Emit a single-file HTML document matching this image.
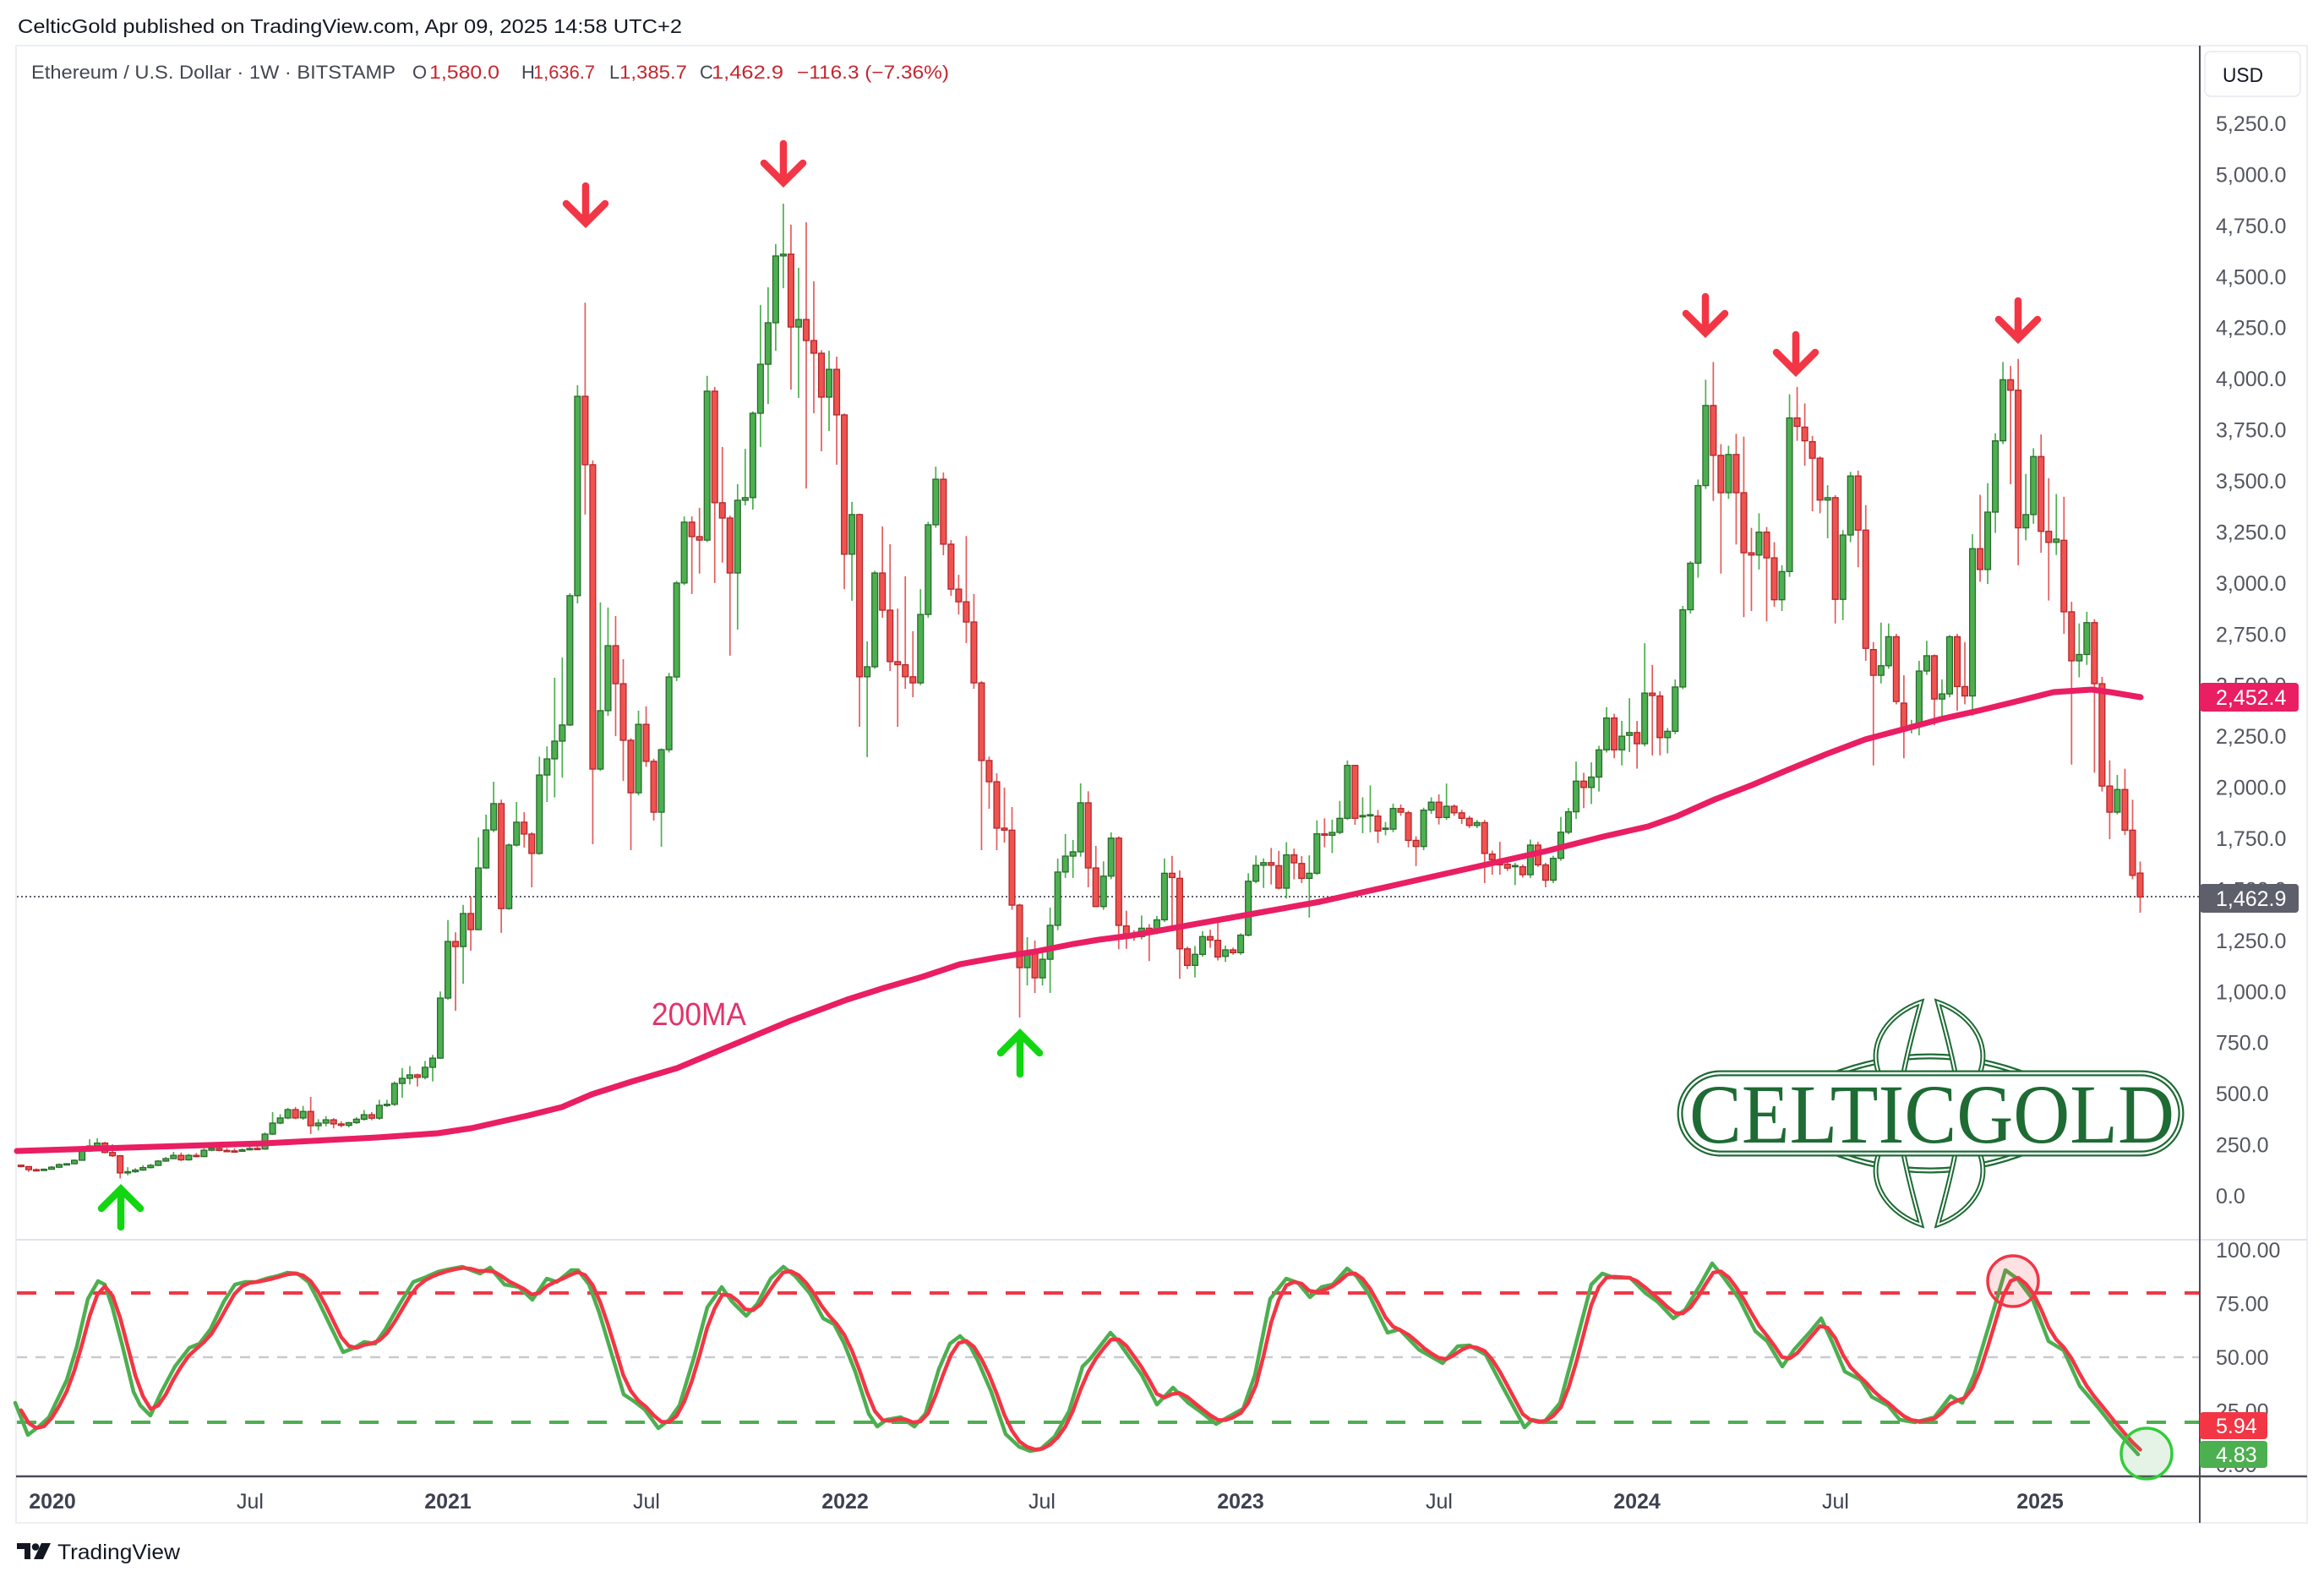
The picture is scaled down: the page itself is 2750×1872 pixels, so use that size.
<!DOCTYPE html>
<html><head><meta charset="utf-8">
<style>
html,body{margin:0;padding:0;background:#fff;}
svg{display:block;}
text{font-family:"Liberation Sans",Arial,sans-serif;}
</style></head><body>
<svg id="c" width="2750" height="1872" viewBox="0 0 2750 1872" xmlns="http://www.w3.org/2000/svg">
<rect width="2750" height="1872" fill="#fff"/>
<!-- header -->
<text x="21" y="39" font-size="23" fill="#131722" textLength="786" lengthAdjust="spacingAndGlyphs">CelticGold published on TradingView.com, Apr 09, 2025 14:58 UTC+2</text>
<!-- panel frame -->
<rect x="19" y="54" width="2711" height="1748" fill="none" stroke="#eceef2" stroke-width="2"/>
<line x1="19" y1="1467" x2="2730" y2="1467" stroke="#e0e3eb" stroke-width="2"/>
<!-- legend -->
<text x="37" y="93" font-size="22" fill="#434651" textLength="431" lengthAdjust="spacingAndGlyphs">Ethereum / U.S. Dollar · 1W · BITSTAMP</text>
<text x="488" y="93" font-size="22" fill="#434651">O</text>
<text x="508" y="93" font-size="22" fill="#c4262e" textLength="83" lengthAdjust="spacingAndGlyphs">1,580.0</text>
<text x="617" y="93" font-size="22" fill="#434651">H</text>
<text x="631" y="93" font-size="22" fill="#c4262e" textLength="73" lengthAdjust="spacingAndGlyphs">1,636.7</text>
<text x="721" y="93" font-size="22" fill="#434651">L</text>
<text x="733" y="93" font-size="22" fill="#c4262e" textLength="80" lengthAdjust="spacingAndGlyphs">1,385.7</text>
<text x="828" y="93" font-size="22" fill="#434651">C</text>
<text x="842" y="93" font-size="22" fill="#c4262e" textLength="85" lengthAdjust="spacingAndGlyphs">1,462.9</text>
<text x="943" y="93" font-size="22" fill="#c4262e" textLength="180" lengthAdjust="spacingAndGlyphs">−116.3 (−7.36%)</text>

<!-- current price dotted line -->
<line x1="20" y1="1061" x2="2603" y2="1061" stroke="#5d606b" stroke-width="2" stroke-dasharray="2 3"/>

<g id="candles"></g>

<!-- 200MA -->
<polyline fill="none" stroke="#e91e63" stroke-width="7" stroke-linejoin="round" stroke-linecap="round"
points="20,1362 134,1358.5 312,1353 446,1346 518,1341 558,1335 589,1328 625,1320 665,1310 700,1295 747,1280 801,1264 868,1236 935,1208 1002,1183 1046,1169 1091,1156 1136,1141 1180,1133 1225,1126 1270,1117 1300,1112 1339,1107 1473,1083 1562,1067 1652,1047 1741,1027 1830,1007 1897,990 1950,978 1984,966 2029,946 2073,929 2118,910 2162,892 2207,875 2252,863 2296,851 2341,841 2386,830 2430,819 2475,816 2497,819 2533,825"/>
<text x="771" y="1213" font-size="38" fill="#e2336b" textLength="112" lengthAdjust="spacingAndGlyphs">200MA</text>

<!-- red arrows -->
<g stroke="#f23645" stroke-width="8.5" fill="none" stroke-linecap="round" stroke-linejoin="miter">
<path d="M693 220 V264 M670 241 L693 264 L716 241"/>
<path d="M927 170 V216 M904 193 L927 216 L950 193"/>
<path d="M2018 351 V394 M1995 371 L2018 394 L2041 371"/>
<path d="M2125 396 V440 M2102 417 L2125 440 L2148 417"/>
<path d="M2388 356 V401 M2365 378 L2388 401 L2411 378"/>
</g>
<!-- green arrows -->
<g stroke="#12d612" stroke-width="8.5" fill="none" stroke-linecap="round" stroke-linejoin="miter">
<path d="M143 1452 V1407 M120 1430 L143 1407 L166 1430"/>
<path d="M1207 1271 V1223 M1184 1246 L1207 1223 L1230 1246"/>
</g>

<!-- CelticGold logo -->
<g>
<g fill="none" stroke="#1e6b34" stroke-width="7">
<path d="M2163 1274 Q2283 1226 2403 1274"/>
<path d="M2163 1361 Q2283 1409 2403 1361"/>
</g>
<g fill="none" stroke="#fff" stroke-width="2.5">
<path d="M2163 1274 Q2283 1226 2403 1274"/>
<path d="M2163 1361 Q2283 1409 2403 1361"/>
</g>
<g fill="#fff" stroke="#1e6b34" stroke-width="6">
<path d="M2273 1186 C2238 1198 2208 1232 2224 1272 L2252 1272 C2258 1240 2266 1212 2273 1186 Z"/>
<path d="M2293 1186 C2328 1198 2358 1232 2342 1272 L2314 1272 C2308 1240 2300 1212 2293 1186 Z"/>
<path d="M2273 1449 C2238 1437 2208 1403 2224 1363 L2252 1363 C2258 1395 2266 1423 2273 1449 Z"/>
<path d="M2293 1449 C2328 1437 2358 1403 2342 1363 L2314 1363 C2308 1395 2300 1423 2293 1449 Z"/>
</g>
<g fill="none" stroke="#fff" stroke-width="2">
<path d="M2273 1186 C2238 1198 2208 1232 2224 1272 L2252 1272 C2258 1240 2266 1212 2273 1186 Z"/>
<path d="M2293 1186 C2328 1198 2358 1232 2342 1272 L2314 1272 C2308 1240 2300 1212 2293 1186 Z"/>
<path d="M2273 1449 C2238 1437 2208 1403 2224 1363 L2252 1363 C2258 1395 2266 1423 2273 1449 Z"/>
<path d="M2293 1449 C2328 1437 2358 1403 2342 1363 L2314 1363 C2308 1395 2300 1423 2293 1449 Z"/>
</g>
<rect x="1988" y="1270" width="593" height="95" rx="47.5" fill="#fff" stroke="#1e6b34" stroke-width="7"/>
<rect x="1988" y="1270" width="593" height="95" rx="47.5" fill="none" stroke="#fff" stroke-width="2.5"/>
<text x="1999" y="1352" font-family="'Liberation Serif',serif" font-size="100" fill="#1e6b34" textLength="574" lengthAdjust="spacingAndGlyphs" style="font-family:'Liberation Serif',serif">CELTICGOLD</text>
</g>

<!-- oscillator reference lines -->
<line x1="20" y1="1530" x2="2603" y2="1530" stroke="#f23645" stroke-width="4" stroke-dasharray="23 22"/>
<line x1="20" y1="1606" x2="2603" y2="1606" stroke="#c8cad0" stroke-width="2.5" stroke-dasharray="12 10"/>
<line x1="20" y1="1683" x2="2603" y2="1683" stroke="#4caf50" stroke-width="4" stroke-dasharray="23 22"/>
<g id="osc"></g>

<!-- axes -->
<line x1="19" y1="1747" x2="2730" y2="1747" stroke="#4a4d57" stroke-width="2.5"/>
<line x1="2603" y1="54" x2="2603" y2="1802" stroke="#4a4d57" stroke-width="2"/>

<!-- circles -->
<circle cx="2382" cy="1516" r="30" fill="rgba(242,54,69,0.15)" stroke="#f23645" stroke-width="3.5"/>
<circle cx="2540" cy="1720" r="30" fill="rgba(76,175,80,0.15)" stroke="#33cc3a" stroke-width="3.5"/>

<!-- USD box -->
<rect x="2609" y="61" width="113" height="53" rx="7" fill="#fff" stroke="#e6e8ee" stroke-width="1.5"/>
<text x="2630" y="97" font-size="24" fill="#131722" textLength="48" lengthAdjust="spacingAndGlyphs">USD</text>

<g id="plabels" font-size="25" fill="#535660"></g>

<!-- price label boxes -->
<rect x="2603" y="808" width="117" height="34" rx="4" fill="#e91e63"/>
<text x="2622" y="834" font-size="25" fill="#fff">2,452.4</text>
<rect x="2603" y="1046" width="117" height="34" rx="4" fill="#5d606b"/>
<text x="2622" y="1072" font-size="25" fill="#fff">1,462.9</text>
<rect x="2603" y="1671" width="80" height="32" rx="4" fill="#f23645"/>
<text x="2622" y="1696" font-size="25" fill="#fff">5.94</text>
<rect x="2603" y="1705" width="80" height="32" rx="4" fill="#4caf50"/>
<text x="2622" y="1730" font-size="25" fill="#fff">4.83</text>

<!-- time axis labels -->
<g font-size="25" fill="#3d4150" text-anchor="middle">
<text x="62" y="1785" font-weight="bold">2020</text>
<text x="296" y="1785">Jul</text>
<text x="530" y="1785" font-weight="bold">2021</text>
<text x="765" y="1785">Jul</text>
<text x="1000" y="1785" font-weight="bold">2022</text>
<text x="1233" y="1785">Jul</text>
<text x="1468" y="1785" font-weight="bold">2023</text>
<text x="1703" y="1785">Jul</text>
<text x="1937" y="1785" font-weight="bold">2024</text>
<text x="2172" y="1785">Jul</text>
<text x="2414" y="1785" font-weight="bold">2025</text>
</g>

<!-- TradingView footer -->
<g fill="#131722">
<path d="M20 1826 H36 V1845 H29 V1833 H20 Z"/>
<circle cx="42" cy="1830.5" r="4.3"/>
<path d="M49 1826 H60 L51 1845 H40 Z"/>
</g>
<text x="68" y="1845" font-size="25" fill="#131722" textLength="145" lengthAdjust="spacingAndGlyphs">TradingView</text>
</svg>

<script>
(function(){
var NS="http://www.w3.org/2000/svg";
function el(tag,attrs,parent){var e=document.createElementNS(NS,tag);for(var k in attrs)e.setAttribute(k,attrs[k]);parent.appendChild(e);return e;}
var D=[[150,153,139,143],[143,146,117,128],[128,134,122,126],[126,134,124,130],
[130,146,128,140],[140,158,135,153],[153,160,148,157],[157,178,154,174],[174,224,172,219],[219,277,215,244],[244,282,238,258],[258,264,208,212],[212,252,190,196],[196,200,85,112],
[112,140,100,118],[118,135,112,126],[126,150,122,138],[138,156,134,149],[149,175,145,170],[170,190,166,182],[182,215,180,198],[198,212,170,176],[176,205,172,198],[198,210,188,192],
[192,232,190,223],[223,252,218,232],[232,238,218,222],[222,234,216,220],[220,232,214,218],[218,232,216,225],[225,245,222,232],[232,242,226,229],[229,310,226,302],[302,410,298,356],
[356,400,350,381],[381,430,375,422],[422,435,375,381],[381,440,372,413],[413,484,302,343],[343,375,320,356],[356,390,340,372],[372,380,330,352],[352,365,335,345],[345,362,335,358],
[358,385,352,375],[375,420,368,397],[397,410,370,380],[380,470,372,443],[443,470,435,448],[448,560,440,550],[550,625,480,575],[575,635,545,592],[592,598,535,580],[580,660,570,629],
[629,690,560,674],[674,1000,670,968],[968,1350,960,1245],[1245,1290,906,1220],[1220,1424,1038,1382],[1382,1464,1200,1303],[1303,1754,1300,1605],[1605,1866,1600,1791],[1791,2027,1780,1920],[1920,1940,1287,1406],
[1406,1725,1400,1717],[1717,1928,1710,1829],[1829,1878,1705,1771],[1771,1780,1510,1676],[1676,2150,1670,2060],[2060,2200,1928,2139],[2139,2536,1950,2226],[2226,2635,2047,2305],[2305,2950,2300,2938],[2938,3968,2900,3914],
[3914,4372,3335,3579],[3579,3600,1721,2089],[2089,2905,2080,2375],[2375,2880,2350,2693],[2693,2838,2250,2507],[2507,2627,2031,2230],[2230,2240,1692,1973],[1973,2375,1960,2308],[2308,2396,2100,2127],[2127,2140,1837,1878],
[1878,2190,1709,2184],[2184,2560,2170,2540],[2540,3010,2520,3000],[3000,3326,2990,3298],[3298,3326,2946,3227],[3227,3368,3046,3210],[3210,4014,3200,3939],[3939,3960,3000,3393],[3393,3666,3100,3318],[3318,3330,2644,3049],
[3049,3484,2772,3405],[3405,3657,3380,3418],[3418,3840,3359,3831],[3831,4361,3666,4071],[4071,4448,3876,4274],[4274,4659,4137,4601],[4601,4857,4443,4610],[4610,4754,3947,4253],[4253,4543,3906,4290],[4290,4766,3463,4187],
[4187,4477,3831,4125],[4125,4140,3645,3910],[3910,4137,3744,4046],[4046,4108,3579,3823],[3823,3830,2970,3141],[3141,3397,2913,3335],[3335,3340,2296,2541],[2541,2714,2147,2590],[2590,3060,2580,3049],[3049,3277,2830,2867],
[2867,3190,2569,2615],[2615,2875,2296,2600],[2600,3033,2482,2541],[2541,2764,2441,2511],[2511,2970,2500,2846],[2846,3300,2830,3285],[3285,3570,3270,3508],[3508,3541,3136,3190],[3190,3210,2937,2970],[2970,3040,2846,2908],
[2908,3230,2706,2809],[2809,2946,2482,2511],[2511,2520,1692,2131],[2131,2150,1895,2027],[2027,2069,1692,1800],[1800,1998,1729,1790],[1790,1903,1400,1423],[1423,1430,873,1117],[1117,1266,1030,1187],[1187,1250,993,1067],
[1067,1200,1030,1158],[1158,1411,993,1324],[1324,1651,1300,1585],[1585,1771,1556,1663],[1663,1742,1556,1684],[1684,2019,1660,1924],[1924,1980,1510,1605],[1605,1713,1415,1416],[1416,1637,1400,1565],[1565,1779,1550,1751],
[1751,1760,1207,1324],[1321,1396,1209,1283],[1283,1300,1248,1269],[1269,1372,1255,1310],[1310,1330,1149,1296],[1296,1370,1280,1351],[1351,1651,1340,1579],[1579,1664,1317,1558],[1554,1593,1062,1209],[1209,1220,1110,1128],
[1128,1223,1069,1182],[1182,1296,1170,1269],[1269,1303,1214,1252],[1251,1342,1152,1169],[1172,1225,1145,1204],[1204,1215,1180,1190],[1190,1285,1180,1276],[1276,1579,1270,1540],[1540,1666,1530,1618],[1618,1652,1507,1631],
[1631,1703,1524,1618],[1616,1689,1500,1506],[1506,1731,1455,1669],[1669,1700,1549,1630],[1627,1663,1531,1554],[1554,1667,1362,1579],[1579,1838,1570,1772],[1772,1848,1706,1765],[1765,1841,1678,1779],[1779,1933,1770,1848],
[1848,2131,1840,2107],[2107,2110,1816,1848],[1855,1951,1775,1862],[1862,2009,1779,1866],[1859,1889,1727,1786],[1795,1830,1765,1800],[1795,1920,1780,1896],[1896,1916,1860,1878],[1875,1885,1706,1740],[1740,1760,1614,1710],
[1710,1900,1692,1888],[1888,1951,1870,1927],[1927,1965,1818,1852],[1852,2018,1840,1907],[1907,1916,1860,1875],[1875,1890,1820,1848],[1848,1860,1800,1813],[1813,1840,1800,1827],[1827,1840,1531,1676],[1673,1690,1572,1645],
[1642,1733,1572,1620],[1623,1640,1590,1604],[1612,1630,1521,1617],[1611,1622,1558,1572],[1572,1744,1556,1717],[1717,1733,1610,1620],[1620,1630,1510,1545],[1545,1665,1531,1652],[1652,1855,1640,1780],[1780,1899,1770,1880],
[1880,2126,1845,2030],[2030,2071,1898,1999],[1999,2122,1918,2050],[2050,2203,1979,2183],[2183,2392,2170,2339],[2339,2360,2142,2183],[2183,2325,2107,2250],[2254,2436,2172,2268],[2268,2325,2091,2213],[2213,2705,2200,2461],
[2461,2599,2156,2449],[2447,2470,2156,2243],[2243,2290,2166,2274],[2274,2528,2260,2491],[2491,2888,2480,2869],[2869,3107,2850,3097],[3097,3507,3026,3477],[3477,3995,3460,3869],[3869,4082,3402,3625],[3625,3680,3046,3442],
[3442,3672,3412,3629],[3629,3730,3188,3442],[3442,3717,2833,3148],[3148,3270,2863,3137],[3137,3341,3066,3249],[3249,3274,2812,3123],[3123,3200,2884,2918],[2918,3087,2863,3056],[3056,3924,3030,3808],[3808,3960,3696,3767],
[3763,3879,3574,3696],[3692,3720,3351,3611],[3611,3619,3341,3406],[3406,3479,3219,3418],[3418,3430,2802,2920],[2920,3259,2818,3235],[3235,3544,3200,3524],[3524,3550,3077,3259],[3259,3381,2619,2680],[2674,2711,2107,2548],
[2548,2806,2508,2595],[2595,2802,2580,2737],[2737,2751,2406,2420],[2412,2548,2142,2290],[2290,2330,2264,2304],[2304,2619,2254,2569],[2569,2717,2550,2644],[2644,2650,2304,2432],[2432,2528,2325,2457],[2457,2745,2440,2737],
[2737,2751,2375,2493],[2493,2711,2406,2447],[2447,3239,2351,3168],[3168,3432,3006,3066],[3066,3489,2995,3347],[3347,3733,3245,3696],[3696,4082,3680,3995],[3995,4062,3483,3944],[3944,4097,3087,3270],[3270,3534,3209,3335],
[3335,3660,3290,3619],[3619,3727,3148,3253],[3253,3513,2914,3199],[3199,3436,3137,3215],[3209,3422,2751,2859],[2859,2908,2111,2619],[2619,2802,2538,2650],[2650,2859,2599,2806],[2806,2823,2071,2507],[2507,2540,1979,2006],
[2006,2132,1746,1878],[1878,2060,1867,1989],[1989,2091,1766,1790],[1790,1939,1550,1569],[1580,1636.7,1385.7,1462.9]];
function Y(p){return 1415-p*0.24171;}
var g=document.getElementById('candles');
for(var k=0;k<D.length;k++){
  var i=k-4, x=61+9.02*i, d=D[k], o=d[0],h=d[1],l=d[2],c=d[3], up=c>=o;
  var top=Y(Math.max(o,c)), bot=Y(Math.min(o,c));
  el('line',{x1:x,x2:x,y1:Y(h),y2:Y(l),stroke:up?'#4caf50':'#e25c5c','stroke-width':1.7},g);
  var hh=Math.max(bot-top,1.5);
  el('rect',{x:x-3.4,y:top,width:6.8,height:hh,fill:up?'#4caf50':'#ef5350',stroke:up?'#2a6a2d':'#b3262b','stroke-width':1.3},g);
}
// price labels
var pl=document.getElementById('plabels');
for(var p=0;p<=5250;p+=250){
  var s=(p>=1000?Math.floor(p/1000)+','+('00'+(p%1000)).slice(-3):String(p))+'.0';
  var t=el('text',{x:2622,y:(Y(p)+9).toFixed(1)},pl); t.textContent=s;
}
var ol=[['100.00',1479],['75.00',1542.5],['50.00',1606],['25.00',1669.5],['0.00',1733]];
for(var j=0;j<ol.length;j++){var t2=el('text',{x:2622,y:ol[j][1]+9},pl);t2.textContent=ol[j][0];}
// oscillator
var K=[[18,1660],[33,1698],[46,1688],[58,1677],[79,1633],[91,1593],[104,1537],[116,1516],[124,1520],[133,1547],[145,1593],[158,1647],[166,1663],[178,1675],[191,1647],[207,1617],[224,1595],[236,1590],[249,1573],[265,1540],[278,1520],[290,1517],[303,1517],[315,1513],[328,1510],[340,1506],[352,1507],[365,1517],[377,1540],[390,1567],[406,1600],[419,1595],[431,1588],[444,1590],[456,1573],[473,1543],[489,1517],[502,1512],[518,1505],[531,1502],[547,1499],[568,1507],[580,1500],[597,1520],[614,1523],[630,1538],[647,1513],[659,1517],[676,1503],[684,1503],[697,1520],[709,1553],[721,1593],[738,1650],[750,1658],[763,1668],[779,1690],[792,1680],[804,1663],[821,1607],[837,1547],[854,1523],[866,1540],[883,1557],[896,1543],[912,1513],[927,1499],[941,1510],[958,1530],[974,1560],[987,1567],[999,1590],[1012,1623],[1028,1673],[1038,1688],[1049,1680],[1066,1677],[1082,1688],[1095,1673],[1111,1620],[1124,1590],[1136,1581],[1148,1593],[1157,1610],[1173,1647],[1190,1697],[1206,1712],[1219,1717],[1231,1715],[1248,1700],[1265,1670],[1281,1617],[1290,1608],[1314,1577],[1323,1587],[1337,1607],[1351,1627],[1369,1662],[1388,1642],[1406,1660],[1420,1670],[1439,1685],[1453,1677],[1471,1667],[1485,1627],[1503,1537],[1522,1513],[1536,1518],[1550,1535],[1564,1523],[1577,1520],[1594,1501],[1605,1510],[1619,1530],[1642,1577],[1656,1573],[1679,1597],[1707,1613],[1725,1593],[1739,1592],[1758,1603],[1776,1637],[1790,1663],[1804,1689],[1813,1680],[1827,1683],[1846,1660],[1864,1593],[1883,1520],[1896,1507],[1910,1512],[1929,1512],[1947,1530],[1961,1540],[1980,1560],[1994,1550],[2012,1520],[2026,1495],[2040,1512],[2058,1537],[2077,1575],[2091,1587],[2109,1617],[2123,1597],[2141,1577],[2155,1560],[2169,1590],[2183,1623],[2202,1633],[2215,1653],[2234,1663],[2248,1680],[2266,1683],[2289,1677],[2308,1652],[2322,1660],[2336,1627],[2354,1567],[2373,1503],[2387,1513],[2405,1537],[2424,1587],[2442,1598],[2461,1640],[2484,1667],[2502,1690],[2530,1721]];
function kAt(x){
  if(x<=K[0][0])return K[0][1];
  for(var m=1;m<K.length;m++){ if(x<=K[m][0]){var a=K[m-1],b=K[m];return a[1]+(b[1]-a[1])*(x-a[0])/(b[0]-a[0]);} }
  return K[K.length-1][1];
}
var og=document.getElementById('osc');
var gp=K.map(function(q){return q[0]+','+q[1];}).join(' ');
el('polyline',{points:gp,fill:'none',stroke:'#4caf50','stroke-width':4.5,'stroke-linejoin':'round','stroke-linecap':'round'},og);
var rp=[];
for(var i2=-4;i2<=274;i2++){
  var xx=61+9.02*i2;
  var v=0.5*kAt(xx)+0.3*kAt(xx-9.02)+0.2*kAt(xx-18.04);
  rp.push(xx.toFixed(1)+','+v.toFixed(1));
}
el('polyline',{points:rp.join(' '),fill:'none',stroke:'#f23645','stroke-width':4.5,'stroke-linejoin':'round','stroke-linecap':'round'},og);
})();
</script>
</body></html>
